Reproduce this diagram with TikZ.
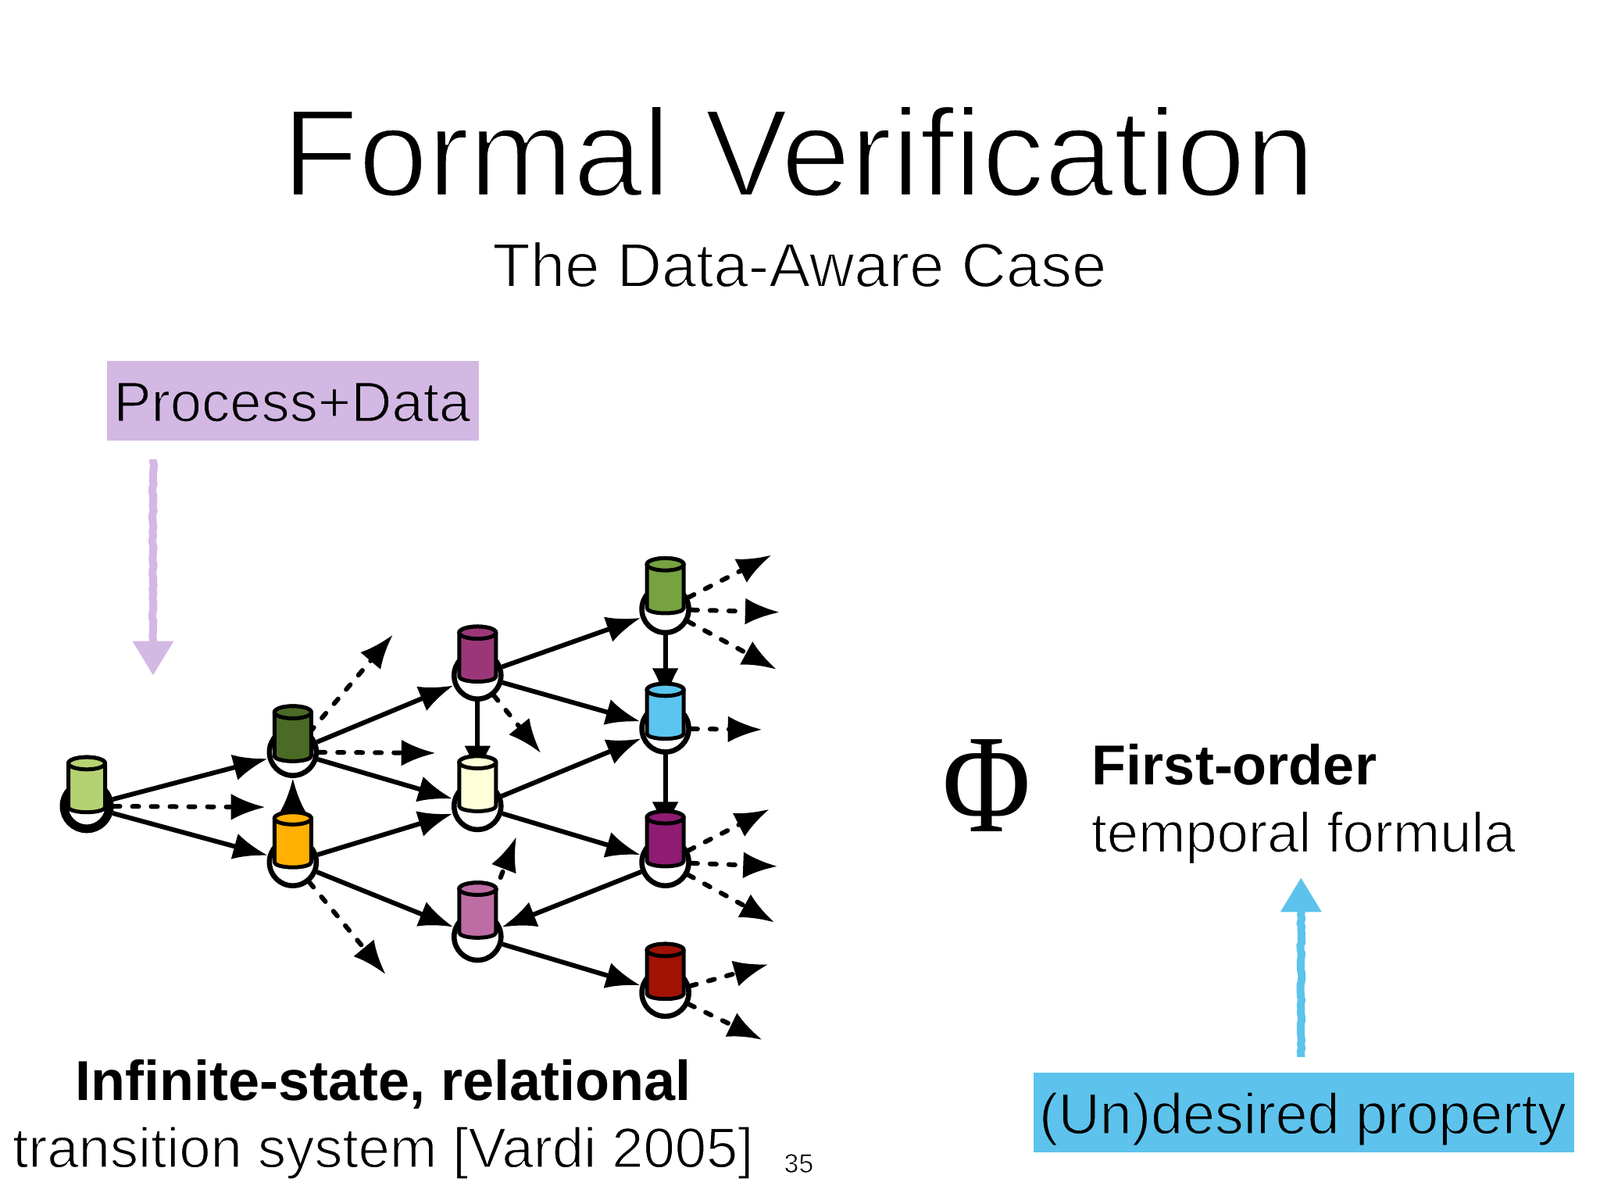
\documentclass[tikz,border=0pt]{standalone}
\usepackage{fontspec}
\setmainfont{Liberation Sans}
\newfontfamily\phif{Liberation Serif}
\usetikzlibrary{arrows.meta,decorations.pathmorphing}
\definecolor{cA}{HTML}{B5D272}
\definecolor{cB}{HTML}{4B6A26}
\definecolor{cC}{HTML}{FFB000}
\definecolor{cD}{HTML}{FFFFD9}
\definecolor{cE}{HTML}{BE6CA4}
\definecolor{cF}{HTML}{9B3778}
\definecolor{cG}{HTML}{76A240}
\definecolor{cH}{HTML}{5BC5EF}
\definecolor{cI}{HTML}{8E1C72}
\definecolor{cJ}{HTML}{A11205}
\definecolor{boxP}{HTML}{D3B8E4}
\definecolor{boxU}{HTML}{5DC3EC}
% thins glyphs by stroking their outline in the background colour
\newcommand\thintext[3]{\special{pdf:code q #1 RG #2 w 2 Tr}#3\special{pdf:code Q}}
\tikzset{
  x=0.653pt,y=0.653pt,
  ring/.style={circle,draw=black,fill=white,line width=3.3pt,minimum size=30pt,inner sep=0pt},
  startring/.style={ring,line width=5.5pt,minimum size=29pt},
  solidedge/.style={line width=3pt,-{Latex[length=22pt,width=17pt]}},
  dashededge/.style={line width=3pt,line cap=round,dash pattern=on 4pt off 8pt,-{Latex[length=22pt,width=17pt]}},
  chalk/.style={line width=5pt,-{Triangle[length=22pt,width=25pt]},decorate,
     decoration={random steps,segment length=2.5pt,amplitude=.5pt,post length=6pt,pre length=1pt}},
  lighttext/.style={anchor=base west,inner sep=0pt},
  boldtext/.style={anchor=base west,inner sep=0pt,font=\bfseries\fontsize{36pt}{40pt}\selectfont},
  dbcyl/.pic={
    \draw[line width=2.5pt,fill=#1,line join=round] (-18,39) -- (-18,-4)
      arc[start angle=180,end angle=360,x radius=18,y radius=5] -- (18,39)
      arc[start angle=0,end angle=180,x radius=18,y radius=6] -- cycle;
    \draw[line width=2.5pt,fill=#1] (0,39) ellipse[x radius=18,y radius=6];
  }
}
\begin{document}
\begin{tikzpicture}
\useasboundingbox (0,0) rectangle (1568,-1176);
% titles
\node[anchor=base,inner sep=0pt,font=\fontsize{79.8pt}{84pt}\selectfont] (title) at (782.5,-192) {\thintext{1 1 1}{1.8}{Formal Verification}};
\node[anchor=base,inner sep=0pt,font=\fontsize{39.8pt}{44pt}\selectfont] (sub) at (783.5,-281) {\thintext{1 1 1}{0.85}{The Data-Aware Case}};
% label boxes
\fill[boxP] (105,-354) rectangle (469,-432);
\node[lighttext,font=\fontsize{36.2pt}{40pt}\selectfont] (pd) at (111,-413) {\thintext{0.827 0.722 0.894}{0.75}{Process+Data}};
\fill[boxU] (1013,-1051) rectangle (1543,-1129);
\node[lighttext,font=\fontsize{36.8pt}{40pt}\selectfont] (up) at (1018,-1111) {\thintext{0.365 0.765 0.925}{0.75}{(Un)desired property}};
% chalk arrows
\coordinate (pa) at (150,-450);
\coordinate (pb) at (150,-662);
\coordinate (ua) at (1275,-1036);
\coordinate (ub) at (1275,-860);
\draw[chalk,color=boxP] (pa) -- (pb);
\draw[chalk,color=boxU] (ua) -- (ub);
% rings
\node[startring] (s0) at (85,-790) {};
\node[ring] (s1) at (287,-737) {};
\node[ring] (s2) at (287,-845) {};
\node[ring] (s3) at (468,-790) {};
\node[ring] (s4) at (468,-918) {};
\node[ring] (s5) at (468,-662) {};
\node[ring] (s6) at (652,-597) {};
\node[ring] (s7) at (652,-714) {};
\node[ring] (s8) at (652,-845) {};
\node[ring] (s9) at (652,-973) {};
% free ends of dashed connectors
\coordinate (d0) at (260,-791);
\coordinate (d1) at (385,-622);
\coordinate (d2) at (427,-738);
\coordinate (d3) at (378,-955);
\coordinate (d4) at (530,-738);
\coordinate (d5) at (506,-820);
\coordinate (d6) at (756,-544);
\coordinate (d7) at (764,-600);
\coordinate (d8) at (761,-656);
\coordinate (d9) at (747,-715);
\coordinate (d10) at (754,-793);
\coordinate (d11) at (762,-849);
\coordinate (d12) at (759,-904);
\coordinate (d13) at (753,-945);
\coordinate (d14) at (747,-1019);
% connectors
\foreach \a/\b in {s0/d0,s1/d1,s1/d2,s2/d3,s5/d4,s4/d5,s6/d6,s6/d7,s6/d8,s7/d9,s8/d10,s8/d11,s8/d12,s9/d13,s9/d14}
  \draw[dashededge] (\a) -- (\b);
\foreach \a/\b in {s0/s1,s0/s2,s1/s3,s1/s5,s2/s3,s2/s4,s2/s1,s5/s6,s5/s7,s5/s3,s3/s7,s3/s8,s8/s4,s4/s9,s6/s7,s7/s8}
  \draw[solidedge] (\a) -- (\b);
% cylinders
\pic at (85,-787) {dbcyl=cA};
\pic at (287,-737) {dbcyl=cB};
\pic at (287,-841) {dbcyl=cC};
\pic at (468,-786) {dbcyl=cD};
\pic at (468,-910) {dbcyl=cE};
\pic at (468,-659) {dbcyl=cF};
\pic at (652,-592) {dbcyl=cG};
\pic at (652,-715) {dbcyl=cH};
\pic at (652,-840) {dbcyl=cI};
\pic at (652,-970) {dbcyl=cJ};
% right-hand text
\node[anchor=center,inner sep=0pt,xscale=0.86,transform shape] (phi) at (967,-770) {\phif\fontsize{90pt}{94pt}\selectfont Φ};
\node[boldtext] (fo) at (1070,-769) {First-order};
\node[lighttext,font=\fontsize{36.2pt}{40pt}\selectfont] (tf) at (1069,-835) {\thintext{1 1 1}{0.75}{temporal formula}};
% bottom text
\node[boldtext,anchor=base] (inf) at (375.5,-1078) {Infinite-state, relational};
\node[lighttext,font=\fontsize{36.2pt}{40pt}\selectfont] (ts) at (12,-1144) {\thintext{1 1 1}{0.75}{transition system [Vardi 2005]}};
\node[lighttext,font=\fontsize{17pt}{20pt}\selectfont] (num) at (768,-1149) {\thintext{1 1 1}{0.35}{35}};
\end{tikzpicture}
\end{document}
